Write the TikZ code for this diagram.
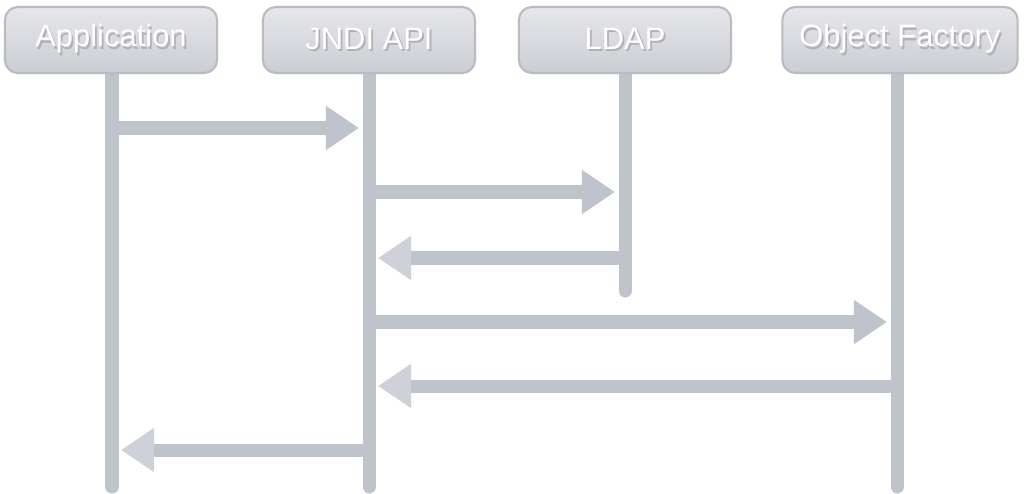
\documentclass[tikz,border=0pt]{standalone}
\usepackage{xcolor}
\usepackage{tikz}
\usepackage{fontspec}
\setmainfont{Liberation Sans}
\usetikzlibrary{arrows.meta, positioning, calc}
\definecolor{lifegray}{RGB}{191, 195, 203}
\definecolor{boxtop}{RGB}{230, 231, 235}
\definecolor{boxbottom}{RGB}{202, 205, 211}
\definecolor{boxline}{RGB}{184, 187, 195}
\definecolor{headlight}{RGB}{206, 209, 215}
\newcommand{\shadowed}[1]{\rlap{\kern0.5pt\raisebox{-0.6pt}{\textcolor{black!30}{#1}}}#1}

\begin{document}
\begin{tikzpicture}[
    x=0.01cm, y=-0.01cm,
    actor/.style={draw=boxline, line width=0.6pt, rounded corners=0.13cm, top color=boxtop, bottom color=boxbottom, text=white, minimum height=0.66cm, inner sep=0pt, font=\fontsize{8.8}{10}\selectfont},
    lifeline/.style={lifegray, line width=0.13cm, line cap=round},
    call/.style={lifegray, line width=0.13cm, shorten >=0.1cm, -{Triangle[length=0.33cm, width=0.42cm]}},
    reply/.style={lifegray, line width=0.13cm, shorten >=0.09cm, -{Triangle[length=0.33cm, width=0.42cm, color=headlight]}}
]
    \useasboundingbox (0,0) rectangle (1024,494);

    % lifelines
    \coordinate (append) at (112,487);
    \coordinate (jndiend) at (369,487);
    \coordinate (ldapend) at (625,291);
    \coordinate (factoryend) at (897,487);
    \draw[lifeline] (112,60) -- (append);
    \draw[lifeline] (369,60) -- (jndiend);
    \draw[lifeline] (625,60) -- (ldapend);
    \draw[lifeline] (897,60) -- (factoryend);

    % participants
    \node[actor, minimum width=2.12cm] (app) at (111,40) {\shadowed{Application}};
    \node[actor, minimum width=2.12cm] (jndi) at (369,40) {\shadowed{JNDI API}};
    \node[actor, minimum width=2.12cm] (ldap) at (625,40) {\shadowed{LDAP}};
    \node[actor, minimum width=2.35cm] (factory) at (900,40) {\shadowed{Object Factory}};

    % messages
    \draw[call] (append |- 0,128) -- (jndiend |- 0,128);
    \draw[call] (jndiend |- 0,192) -- (ldapend |- 0,192);
    \draw[reply] (ldapend |- 0,258) -- (jndiend |- 0,258);
    \draw[call] (jndiend |- 0,322) -- (factoryend |- 0,322);
    \draw[reply] (factoryend |- 0,386) -- (jndiend |- 0,386);
    \draw[reply] (jndiend |- 0,450) -- (append |- 0,450);

\end{tikzpicture}
\end{document}
